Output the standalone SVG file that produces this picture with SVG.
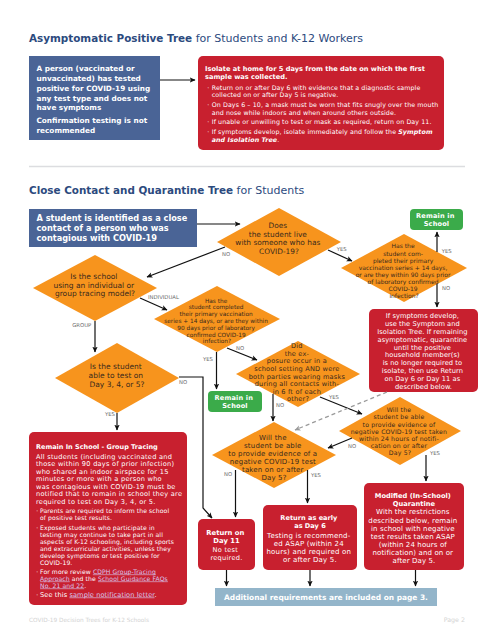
<svg xmlns="http://www.w3.org/2000/svg" width="494" height="640" viewBox="0 0 494 640">
<defs>
<marker id="ah" viewBox="0 0 10 10" refX="9" refY="5" markerWidth="6" markerHeight="6" markerUnits="userSpaceOnUse" orient="auto"><path d="M0,0.5 L10,5 L0,9.5 L2.5,5 z" fill="#111"/></marker>
<marker id="ahg" viewBox="0 0 10 10" refX="9" refY="5" markerWidth="6" markerHeight="6" markerUnits="userSpaceOnUse" orient="auto"><path d="M0,0.5 L10,5 L0,9.5 L2.5,5 z" fill="#9a9a9a"/></marker>
<style>
text{font-family:"DejaVu Sans","Noto Sans",sans-serif}
.ttlb{font-weight:700;font-size:10.4px;fill:#2c4a7e}
.ttlr{font-weight:400;font-size:11px;fill:#2c4a7e}
.blue{fill:#4a6496}
.red{fill:#c8202f}
.org{fill:#f7941d}
.grn{fill:#3bab4a}
.bar{fill:#93b5ca}
.wb{fill:#fff;font-weight:700}
.w{fill:#fff}
.dt{fill:#3a2a1c}
.lbl{fill:#6a6a6a;font-size:5.3px}
.ln{stroke:#111;stroke-width:1.2;fill:none;marker-end:url(#ah)}
.lk{fill:#d6c6ee;text-decoration:underline}
.mid{text-anchor:middle}
</style>
</defs>

<text x="29" y="41.7"><tspan class="ttlb">Asymptomatic Positive Tree</tspan><tspan class="ttlr"> for Students and K-12 Workers</tspan></text>

<g id="n-positive">
<rect class="blue" x="29" y="56" width="131" height="84"/>
<text class="wb" font-size="7.3px">
<tspan x="36.5" y="70.9">A person (vaccinated or</tspan>
<tspan x="36.5" y="80.9">unvaccinated) has tested</tspan>
<tspan x="36.5" y="90.6">positive for COVID-19 using</tspan>
<tspan x="36.5" y="100.6">any test type and does not</tspan>
<tspan x="36.5" y="109.9">have symptoms</tspan>
<tspan x="36.5" y="122.6">Confirmation testing is not</tspan>
<tspan x="36.5" y="132.6">recommended</tspan>
</text>
</g>

<g id="n-isolate">
<rect class="red" x="198" y="56" width="246" height="94" rx="5"/>
<text class="wb" font-size="6.65px">
<tspan x="205" y="71.4">Isolate at home for 5 days from the date on which the first</tspan>
<tspan x="205" y="79.1">sample was collected.</tspan>
</text>
<text class="w" font-size="6.3px" letter-spacing="0.1">
<tspan x="207.3" y="90">·</tspan><tspan x="211.7" y="90">Return on or after Day 6 with evidence that a diagnostic sample</tspan>
<tspan x="211.7" y="97.3">collected on or after Day 5 is  negative.</tspan>
<tspan x="207.3" y="107.3">·</tspan><tspan x="211.7" y="107.3">On Days 6 – 10, a mask must be worn that fits snugly over the mouth</tspan>
<tspan x="211.7" y="114.6">and nose while indoors and when around others outside.</tspan>
<tspan x="207.3" y="124.3">·</tspan><tspan x="211.7" y="124.3">If unable or unwilling to test or mask as required, return on Day 11.</tspan>
<tspan x="207.3" y="134.3">·</tspan><tspan x="211.7" y="134.3">If symptoms develop, isolate immediately and follow the <tspan font-weight="700" font-style="italic">Symptom</tspan></tspan>
<tspan x="211.7" y="142.3" font-weight="700" font-style="italic">and Isolation Tree</tspan><tspan>.</tspan>
</text>
</g>

<line x1="29" y1="166.5" x2="465" y2="166.5" stroke="#dcdde0" stroke-width="1.5"/>

<text x="29" y="193.7"><tspan class="ttlb">Close Contact and Quarantine Tree</tspan><tspan class="ttlr"> for Students</tspan></text>

<g id="n-close-contact">
<rect class="blue" x="29" y="209" width="168" height="38"/>
<text class="wb" font-size="8.2px">
<tspan x="36.5" y="221.3">A student is identified as a close</tspan>
<tspan x="36.5" y="231.3">contact of a person who was</tspan>
<tspan x="36.5" y="241.3">contagious with COVID-19</tspan>
</text>
</g>

<g id="n-live-with">
<polygon class="org" points="217,242 279,208 341,242 279,276"/>
<text class="dt mid" font-size="7.4px">
<tspan x="279" y="228.1">Does</tspan>
<tspan x="279" y="236.7">the student live</tspan>
<tspan x="279" y="245.3">with someone who has</tspan>
<tspan x="279" y="253.9">COVID-19?</tspan>
</text>
</g>

<g id="n-vax-household">
<polygon class="org" points="341,268 404,234 467,268 404,302"/>
<text class="dt mid" font-size="6px">
<tspan x="404" y="248.2">Has the</tspan>
<tspan x="404" y="255.5">student com-</tspan>
<tspan x="404" y="262.5">pleted their primary</tspan>
<tspan x="404" y="269.9">vaccination series + 14 days,</tspan>
<tspan x="404" y="276.9">or are they within 90 days prior</tspan>
<tspan x="404" y="283.9">of laboratory confirmed</tspan>
<tspan x="404" y="290.9">COVID-19</tspan>
<tspan x="404" y="297.9">infection?</tspan>
</text>
</g>

<g id="n-remain-1">
<rect class="grn" x="410" y="209" width="53" height="21" rx="4"/>
<text class="wb mid" font-size="6.6px" letter-spacing="0.15">
<tspan x="436.5" y="218.1">Remain in</tspan>
<tspan x="436.5" y="225.9">School</tspan>
</text>
</g>

<g id="n-household-quarantine">
<rect class="red" x="369" y="309" width="109" height="83" rx="5"/>
<text class="w mid" font-size="6.7px" letter-spacing="0.05">
<tspan x="423.5" y="318.4">If symptoms develop,</tspan>
<tspan x="423.5" y="326.2">use the Symptom and</tspan>
<tspan x="423.5" y="334">Isolation Tree. If remaining</tspan>
<tspan x="423.5" y="341.8">asymptomatic, quarantine</tspan>
<tspan x="423.5" y="349.6">until the positive</tspan>
<tspan x="423.5" y="357.4">household member(s)</tspan>
<tspan x="423.5" y="365.2">is no longer required to</tspan>
<tspan x="423.5" y="373">isolate, then use Return</tspan>
<tspan x="423.5" y="380.8">on Day 6 or Day 11 as</tspan>
<tspan x="423.5" y="388.6">described below.</tspan>
</text>
</g>

<g id="n-tracing-model">
<polygon class="org" points="33,288 95,255 157,288 95,321"/>
<text class="dt mid" font-size="7.5px">
<tspan x="95" y="279">Is the school</tspan>
<tspan x="95" y="287.7">using an individual or</tspan>
<tspan x="95" y="296.4">group tracing model?</tspan>
</text>
</g>

<g id="n-vax-individual">
<polygon class="org" points="154,319 217,286 280,319 217,352"/>
<text class="dt mid" font-size="5.8px">
<tspan x="217" y="302.5">Has the</tspan>
<tspan x="217" y="309.3">student completed</tspan>
<tspan x="217" y="316.1">their primary vaccination</tspan>
<tspan x="217" y="322.9">series + 14 days, or are they within</tspan>
<tspan x="217" y="329.7">90 days prior of laboratory</tspan>
<tspan x="217" y="336.5">confirmed COVID-19</tspan>
<tspan x="217" y="343.3">infection?</tspan>
</text>
</g>

<g id="n-test-day3">
<polygon class="org" points="55,378 117,343 179,378 117,413"/>
<text class="dt mid" font-size="7.5px">
<tspan x="117" y="368.7">Is the student</tspan>
<tspan x="117" y="377.7">able to test on</tspan>
<tspan x="117" y="386.7">Day 3, 4, or 5?</tspan>
</text>
</g>

<g id="n-school-exposure">
<polygon class="org" points="236,374 298,341 360,374 298,407"/>
<text class="dt mid" font-size="6.6px" letter-spacing="0.18">
<tspan x="298" y="348.1">Did</tspan>
<tspan x="298" y="355.7">the ex-</tspan>
<tspan x="298" y="363.3">posure occur in a</tspan>
<tspan x="298" y="370.9">school setting AND were</tspan>
<tspan x="298" y="378.5">both parties wearing masks</tspan>
<tspan x="298" y="386.1">during all contacts with-</tspan>
<tspan x="298" y="393.7">in 6 ft of each</tspan>
<tspan x="298" y="401.3">other?</tspan>
</text>
</g>

<g id="n-remain-2">
<rect class="grn" x="208" y="391" width="54" height="21" rx="4"/>
<text class="wb mid" font-size="6.6px" letter-spacing="0.15">
<tspan x="235" y="400.2">Remain in</tspan>
<tspan x="235" y="408">School</tspan>
</text>
</g>

<g id="n-test-24h">
<polygon class="org" points="339,431 400,397 461,431 400,465"/>
<text class="dt mid" font-size="6.2px" letter-spacing="0.15">
<tspan x="400" y="412.1">Will the</tspan>
<tspan x="400" y="419.3">student be able</tspan>
<tspan x="400" y="426.5">to provide evidence of</tspan>
<tspan x="400" y="433.7">negative COVID-19 test taken</tspan>
<tspan x="400" y="440.9">within 24 hours of notifi-</tspan>
<tspan x="400" y="448.1">cation on or after</tspan>
<tspan x="400" y="455.3">Day 5?</tspan>
</text>
</g>

<g id="n-test-day5">
<polygon class="org" points="212,455 274,422 336,455 274,488"/>
<text class="dt mid" font-size="7px" letter-spacing="0.17">
<tspan x="274" y="439.5">Will the</tspan>
<tspan x="274" y="447.5">student be able</tspan>
<tspan x="274" y="455.5">to provide evidence of a</tspan>
<tspan x="274" y="463.5">negative COVID-19 test</tspan>
<tspan x="274" y="471.5">taken on or after</tspan>
<tspan x="274" y="479.5">Day 5?</tspan>
</text>
</g>

<g id="n-group-tracing">
<rect class="red" x="29" y="432" width="158" height="173" rx="5"/>
<text class="wb" font-size="6.5px" x="36" y="449">Remain In School - Group Tracing</text>
<text class="w" font-size="6.6px" letter-spacing="0.26">
<tspan x="36" y="458.5">All students (including vaccinated and</tspan>
<tspan x="36" y="466">those within 90 days of prior infection)</tspan>
<tspan x="36" y="473.5">who shared an indoor airspace for 15</tspan>
<tspan x="36" y="481">minutes or more with a person who</tspan>
<tspan x="36" y="488.5">was contagious with COVID-19 must be</tspan>
<tspan x="36" y="496">notified that to remain in school they are</tspan>
<tspan x="36" y="503.5">required to test on Day 3, 4, or 5.</tspan>
</text>
<text class="w" font-size="6.1px" letter-spacing="0.1">
<tspan x="36.3" y="513.3">·</tspan><tspan x="40" y="513.3">Parents are required to inform the school</tspan>
<tspan x="40" y="520.3">of positive test results.</tspan>
<tspan x="36.3" y="529.5">·</tspan><tspan x="40" y="529.5">Exposed students who participate in</tspan>
<tspan x="40" y="536.5">testing may continue to take part in all</tspan>
<tspan x="40" y="543.5">aspects of K-12 schooling, including sports</tspan>
<tspan x="40" y="550.5">and extracurricular activities, unless they</tspan>
<tspan x="40" y="557.5">develop symptoms or test positive for</tspan>
<tspan x="40" y="564.5">COVID-19.</tspan>
<tspan x="36.3" y="573.5">·</tspan><tspan x="40" y="573.5">For more review </tspan><tspan class="lk">CDPH Group-Tracing</tspan>
<tspan x="40" y="580.5" class="lk">Approach</tspan><tspan> and the </tspan><tspan class="lk">School Guidance FAQs</tspan>
<tspan x="40" y="587.5" class="lk">No. 21 and 22</tspan><tspan>.</tspan>
<tspan x="36.3" y="596.5">·</tspan><tspan x="40" y="596.5" font-size="6.6px">See this </tspan><tspan class="lk" font-size="6.6px">sample notification letter</tspan><tspan font-size="6.6px">.</tspan>
</text>
</g>

<g id="n-return-day11">
<rect class="red" x="198" y="519" width="57" height="51" rx="5"/>
<text class="wb mid" font-size="6.8px">
<tspan x="226.5" y="534.8">Return on</tspan>
<tspan x="226.5" y="542.5">Day 11</tspan>
</text>
<text class="w mid" font-size="6.6px" letter-spacing="0.25">
<tspan x="226.5" y="552.4">No test</tspan>
<tspan x="226.5" y="559.7">required.</tspan>
</text>
</g>

<g id="n-return-day6">
<rect class="red" x="263" y="505" width="94" height="65" rx="5"/>
<text class="wb mid" font-size="6.6px">
<tspan x="310" y="520.1">Return as early</tspan>
<tspan x="310" y="528.1">as Day 6</tspan>
</text>
<text class="w mid" font-size="7px" letter-spacing="0.2">
<tspan x="310" y="538.2">Testing is recommend-</tspan>
<tspan x="310" y="546.2">ed ASAP (within 24</tspan>
<tspan x="310" y="554.2">hours) and required on</tspan>
<tspan x="310" y="561.8">or after Day 5.</tspan>
</text>
</g>

<g id="n-modified-quarantine">
<rect class="red" x="364" y="483" width="100" height="87" rx="5"/>
<text class="wb mid" font-size="6.7px">
<tspan x="414" y="498.1">Modified (In-School)</tspan>
<tspan x="414" y="506.1">Quarantine</tspan>
</text>
<text class="w mid" font-size="7px" letter-spacing="0.12">
<tspan x="414" y="514.2">With the restrictions</tspan>
<tspan x="414" y="522.5">described below, remain</tspan>
<tspan x="414" y="530.5">in school with negative</tspan>
<tspan x="414" y="538.5">test results taken ASAP</tspan>
<tspan x="414" y="546.5">(within 24 hours of</tspan>
<tspan x="414" y="554.5">notification) and on or</tspan>
<tspan x="414" y="562.5">after Day 5.</tspan>
</text>
</g>

<g id="n-additional">
<rect class="bar" x="215" y="588" width="222" height="18"/>
<text class="wb mid" font-size="7.45px" x="326" y="599.7">Additional requirements are included on page 3.</text>
</g>

<g id="connectors">
<line class="ln" x1="160" y1="80" x2="195" y2="80"/>
<line class="ln" x1="197" y1="224" x2="240" y2="224"/>
<line class="ln" x1="328" y1="250" x2="352" y2="261"/>
<line class="ln" x1="437" y1="252" x2="437" y2="232"/>
<line class="ln" x1="437" y1="284" x2="437" y2="307"/>
<line class="ln" x1="225" y1="247" x2="147" y2="277"/>
<line class="ln" x1="140" y1="298" x2="167" y2="310"/>
<line class="ln" x1="95" y1="321" x2="95" y2="352"/>
<line class="ln" x1="216.5" y1="352" x2="216.5" y2="389"/>
<line class="ln" x1="227" y1="348" x2="257" y2="360"/>
<polyline class="ln" points="179,377 203,377 203,508 212,518"/>
<line class="ln" x1="117" y1="413" x2="117" y2="430"/>
<line class="ln" x1="273" y1="394" x2="273" y2="421"/>
<line class="ln" x1="320" y1="397" x2="362" y2="414"/>
<line x1="387" y1="392" x2="295" y2="430" stroke="#9a9a9a" stroke-width="1.3" stroke-dasharray="4,3" marker-end="url(#ahg)"/>
<line class="ln" x1="352" y1="438" x2="328" y2="448"/>
<line class="ln" x1="426" y1="455" x2="426" y2="481"/>
<line class="ln" x1="235.5" y1="470" x2="235.5" y2="517"/>
<line class="ln" x1="307.5" y1="470" x2="307.5" y2="503"/>
<line class="ln" x1="226.5" y1="570" x2="226.5" y2="586"/>
<line class="ln" x1="310" y1="570" x2="310" y2="586"/>
<line class="ln" x1="415.5" y1="570" x2="415.5" y2="586"/>
<g class="mid">
<text class="lbl" x="341.7" y="250.9">YES</text>
<text class="lbl" x="446.7" y="252.9">YES</text>
<text class="lbl" x="446" y="289.9">NO</text>
<text class="lbl" x="226" y="255.9">NO</text>
<text class="lbl" x="81.7" y="326.9">GROUP</text>
<text class="lbl" x="183" y="383.6">NO</text>
<text class="lbl" x="110" y="415.9">YES</text>
<text class="lbl" x="208" y="361.2">YES</text>
<text class="lbl" x="240" y="349.9">NO</text>
<text class="lbl" x="280" y="406.9">NO</text>
<text class="lbl" x="334" y="398.6">YES</text>
<text class="lbl" x="352" y="447.9">NO</text>
<text class="lbl" x="435" y="454.9">YES</text>
<text class="lbl" x="228" y="475.9">NO</text>
<text class="lbl" x="316" y="476.9">YES</text>
</g>
<text class="lbl" x="148" y="298.6">INDIVIDUAL</text>
</g>

<text x="29" y="622" font-size="5.8px" fill="#d3d3d3">COVID-19 Decision Trees for K-12 Schools</text>
<text x="465" y="622" font-size="6.3px" fill="#d3d3d3" text-anchor="end">Page 2</text>
</svg>
